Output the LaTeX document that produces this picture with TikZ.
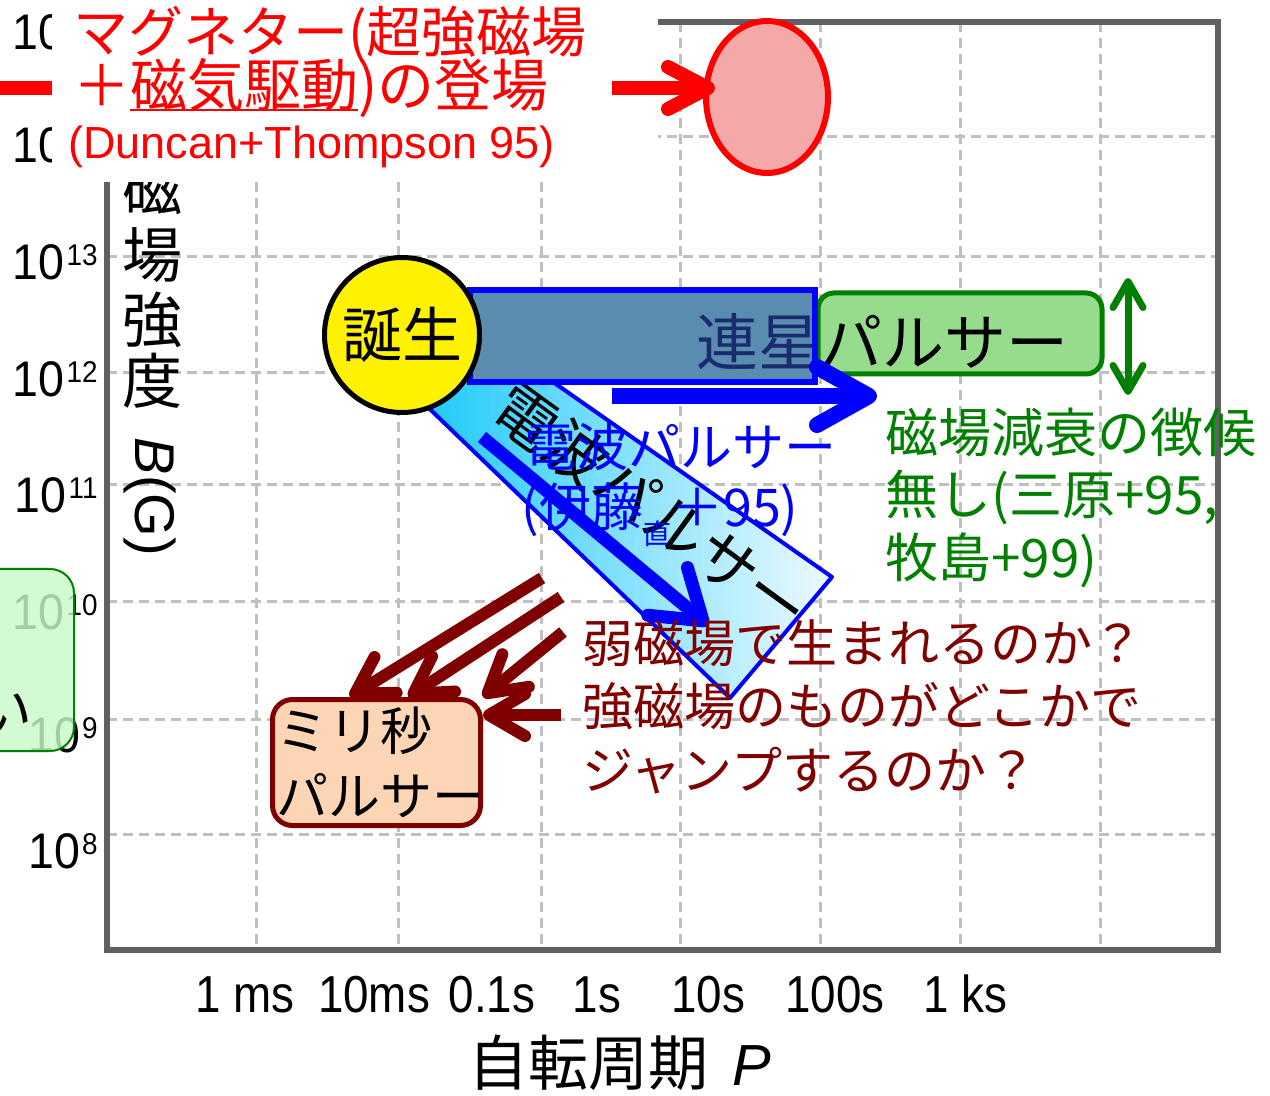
\documentclass[tikz,border=0pt]{standalone}
\usepackage{fontspec}
\setmainfont{Liberation Sans}
\newfontfamily\jp{Noto Sans CJK JP}
\newfontfamily\narrowfont[FakeStretch=0.88]{Liberation Sans}
\newfontfamily\tickfont[FakeStretch=0.93]{Liberation Sans}
\usetikzlibrary{arrows.meta,shapes.geometric,calc}
\newcommand\myfs[2]{\fontsize{#1}{#2}\selectfont}
\newcommand\tenp[1]{10\kern1pt\raisebox{7pt}{\myfs{15}{15}#1}}
\newcommand\myul[1]{\setbox0\hbox{#1}\rlap{\raisebox{-2.5pt}{\rule{\wd0}{1.2pt}}}\box0}
\definecolor{gridgray}{RGB}{192,192,192}
\definecolor{framegray}{RGB}{96,96,96}
\definecolor{magfill}{RGB}{245,168,168}
\definecolor{gdark}{RGB}{0,128,0}
\definecolor{glight}{RGB}{150,220,140}
\definecolor{lgreen}{RGB}{200,250,200}
\definecolor{bandfill}{RGB}{90,140,175}
\definecolor{navyc}{RGB}{25,45,110}
\definecolor{bandL}{RGB}{25,200,250}
\definecolor{bandR}{RGB}{238,250,255}
\definecolor{mpeach}{RGB}{252,213,181}
\definecolor{mdred}{RGB}{128,0,0}
\tikzset{
  gridline/.style={draw=gridgray, line width=1.5pt, dash pattern=on 5pt off 3pt},
  framebox/.style={draw=framegray, line width=3pt},
  ytick/.style={anchor=base east, inner sep=0pt, font=\tickfont\myfs{25}{25}},
  xtick/.style={anchor=base, inner sep=0pt, font=\narrowfont\myfs{26}{26}},
  jpt/.style={inner sep=0pt, font=\jp\myfs{30}{30}},
  redline/.style={draw=red, line width=7pt},
  redarrow/.style={redline, -{Straight Barb[round, length=20pt, width=21pt]}},
  bluearrow/.style={draw=blue, line width=8pt, -{Straight Barb[round, length=26pt, width=29pt]}},
  diagarrow/.style={draw=blue, line width=6.5pt, -{Straight Barb[round, length=23pt, width=31pt]}},
  qarrow/.style={draw=mdred, line width=6pt, -{Straight Barb[round, length=18pt, width=21pt]}},
  garrow/.style={draw=gdark, line width=3.5pt, {Straight Barb[round, length=13pt, width=15pt]}-{Straight Barb[round, length=13pt, width=15pt]}},
}
\begin{document}
\begin{tikzpicture}[x=0.5pt,y=-0.5pt]
\useasboundingbox (0,0) rectangle (1270,1096);
\clip (0,0) rectangle (1270,1096);
% grid and frame
\foreach \gx in {256,398,541,680,820,960,1100} \draw[gridline] (\gx,22) -- (\gx,950);
\foreach \gy in {137,257,373,485,602,719,834} \draw[gridline] (107,\gy) -- (1218,\gy);
\draw[framebox] (107,22) rectangle (1218,950);
% y tick labels
\node[ytick] (y15) at (98,50) {\tenp{15}};
\node[ytick] (y14) at (98,163) {\tenp{14}};
\node[ytick] (y13) at (98,280) {\tenp{13}};
\node[ytick] (y12) at (98,397) {\tenp{12}};
\node[ytick] (y11) at (98,513) {\tenp{11}};
\node[ytick] (y10) at (98,630) {\tenp{10}};
\node[ytick] (y9) at (98,752) {\tenp{9}};
\node[ytick] (y8) at (98,868) {\tenp{8}};
% y axis title
\node[jpt] (ya1) at (152,188) {磁};
\node[jpt] (ya2) at (152,255) {場};
\node[jpt] (ya3) at (152,320) {強};
\node[jpt] (ya4) at (152,381) {度};
\node[inner sep=0pt, rotate=-90, font=\myfs{28}{28}] (ya5) at (150,497) {\textit{B}(G)};
% x tick labels
\node[xtick] (t1) at (245,1012) {1 ms};
\node[xtick] (t2) at (374,1012) {10ms};
\node[xtick] (t3) at (492,1012) {0.1s};
\node[xtick] (t4) at (597,1012) {1s};
\node[xtick] (t5) at (708,1012) {10s};
\node[xtick] (t6) at (835,1012) {100s};
\node[xtick] (t7) at (965,1012) {1 ks};
\node[anchor=base, inner sep=0pt, font=\myfs{29}{29}] (xt) at (620,1085) {{\jp\myfs{30}{30}自転周期}\hspace{12pt}\textit{P}};
% magnetar
\coordinate (mL) at (0,88);
\coordinate (mS) at (612,88);
\draw[redline] (mL) -- (mS);
\fill[white] (52,0) rectangle (658,182);
\node[ellipse, draw=red, line width=3pt, fill=magfill, minimum width=61pt, minimum height=76pt, inner sep=0pt] (mag) at (767,97) {};
\draw[redarrow] (mS) -- ([xshift=6pt]mS -| mag.west);
\node[anchor=west, inner sep=0pt, text=red, font=\jp\myfs{27.5}{27.5}] (m1) at (73,35) {マグネター(超強磁場};
\node[anchor=west, inner sep=0pt, text=red, font=\jp\myfs{28.5}{28.5}] (m2) at (73,88) {＋\myul{磁気駆動})の登場};
\node[anchor=west, inner sep=0pt, text=red, font=\myfs{22.5}{22.5}] (m3) at (68,147) {(Duncan+Thompson 95)};
% left green box
\node[draw=gdark, line width=1pt, fill=lgreen, fill opacity=0.82, rounded corners=12pt, minimum width=52pt, minimum height=91pt, inner sep=0pt] (lbox) at (22,660) {};
\node[jpt, font=\jp\myfs{28}{28}] (ich) at (4,712) {い};
% diagonal radio pulsar band
\shadedraw[left color=bandL, right color=bandR, draw=blue, line width=2pt, line join=round] (440,303) -- (832,577) -- (730,698) -- (410,390) -- cycle;
\node[inner sep=0pt, rotate=-36, font=\jp\myfs{31}{31}] (rp) at (652,508) {電波パルサー};
\coordinate (rb1) at (482,437);
\coordinate (rb2) at (708,625);
\draw[diagarrow] (rb1) -- (rb2);
\node[inner sep=0pt, text=blue, font=\jp\myfs{26}{26}] (rpt) at (680,447) {電波パルサー};
\node[inner sep=0pt, text=blue, font=\jp\myfs{26}{26}] (rpc) at (660,515) {(伊藤\raisebox{-0.35em}{\myfs{14}{14}直}＋95)};
% binary pulsar
\node[draw=gdark, fill=glight, line width=2.5pt, rounded corners=8pt, minimum width=142pt, minimum height=40.5pt, inner sep=0pt] (gbox) at (960,333.5) {};
\filldraw[fill=bandfill, draw=blue, line width=3pt] (470,290) rectangle (815,382);
\node[inner sep=0pt, font=\jp\myfs{31}{31}] (bp) at (882,342) {\textcolor{navyc}{連星}パルサー};
\coordinate (bS) at (612,396);
\coordinate (bE) at (877,396);
\draw[bluearrow] (bS) -- (bE);
% birth
\node[circle, fill=yellow, draw=black, line width=2.5pt, minimum size=77.5pt, inner sep=0pt, font=\jp\myfs{30}{30}] (birth) at (402,335) {誕生};
% green double arrow and text
\coordinate (gT) at (1128,278);
\coordinate (gB) at (1128,395);
\draw[garrow] (gT) -- (gB);
\node[anchor=west, inner sep=0pt, text=gdark, align=left, font=\jp\myfs{26.5}{31.25}] (gtxt) at (885,497.5) {磁場減衰の徴候\\無し(三原+95,\\牧島+99)};
% millisecond pulsar
\node[draw=mdred, fill=mpeach, line width=2.5pt, rounded corners=10pt, minimum width=104pt, minimum height=63pt, inner sep=1.5pt, text width=100pt, align=left, font=\jp\myfs{26}{32.5}] (ms) at (376.5,762.5) {ミリ秒\\パルサー};
\coordinate (q1) at (542,578);
\coordinate (q2) at (561,597);
\coordinate (q3) at (563,632);
\coordinate (q4) at (561,715);
\draw[qarrow] (q1) -- ($(ms.north west)!0.375!(ms.north east)$);
\draw[qarrow] (q2) -- ($(ms.north west)!0.65!(ms.north east)$);
\draw[qarrow] (q3) -- (ms.north east);
\draw[qarrow] (q4) -- (q4 -| ms.east);
\node[anchor=west, inner sep=0pt, text=mdred, align=left, font=\jp\myfs{25.5}{31.75}] (qtxt) at (582,706.5) {弱磁場で生まれるのか？\\強磁場のものがどこかで\\ジャンプするのか？};
\end{tikzpicture}
\end{document}
